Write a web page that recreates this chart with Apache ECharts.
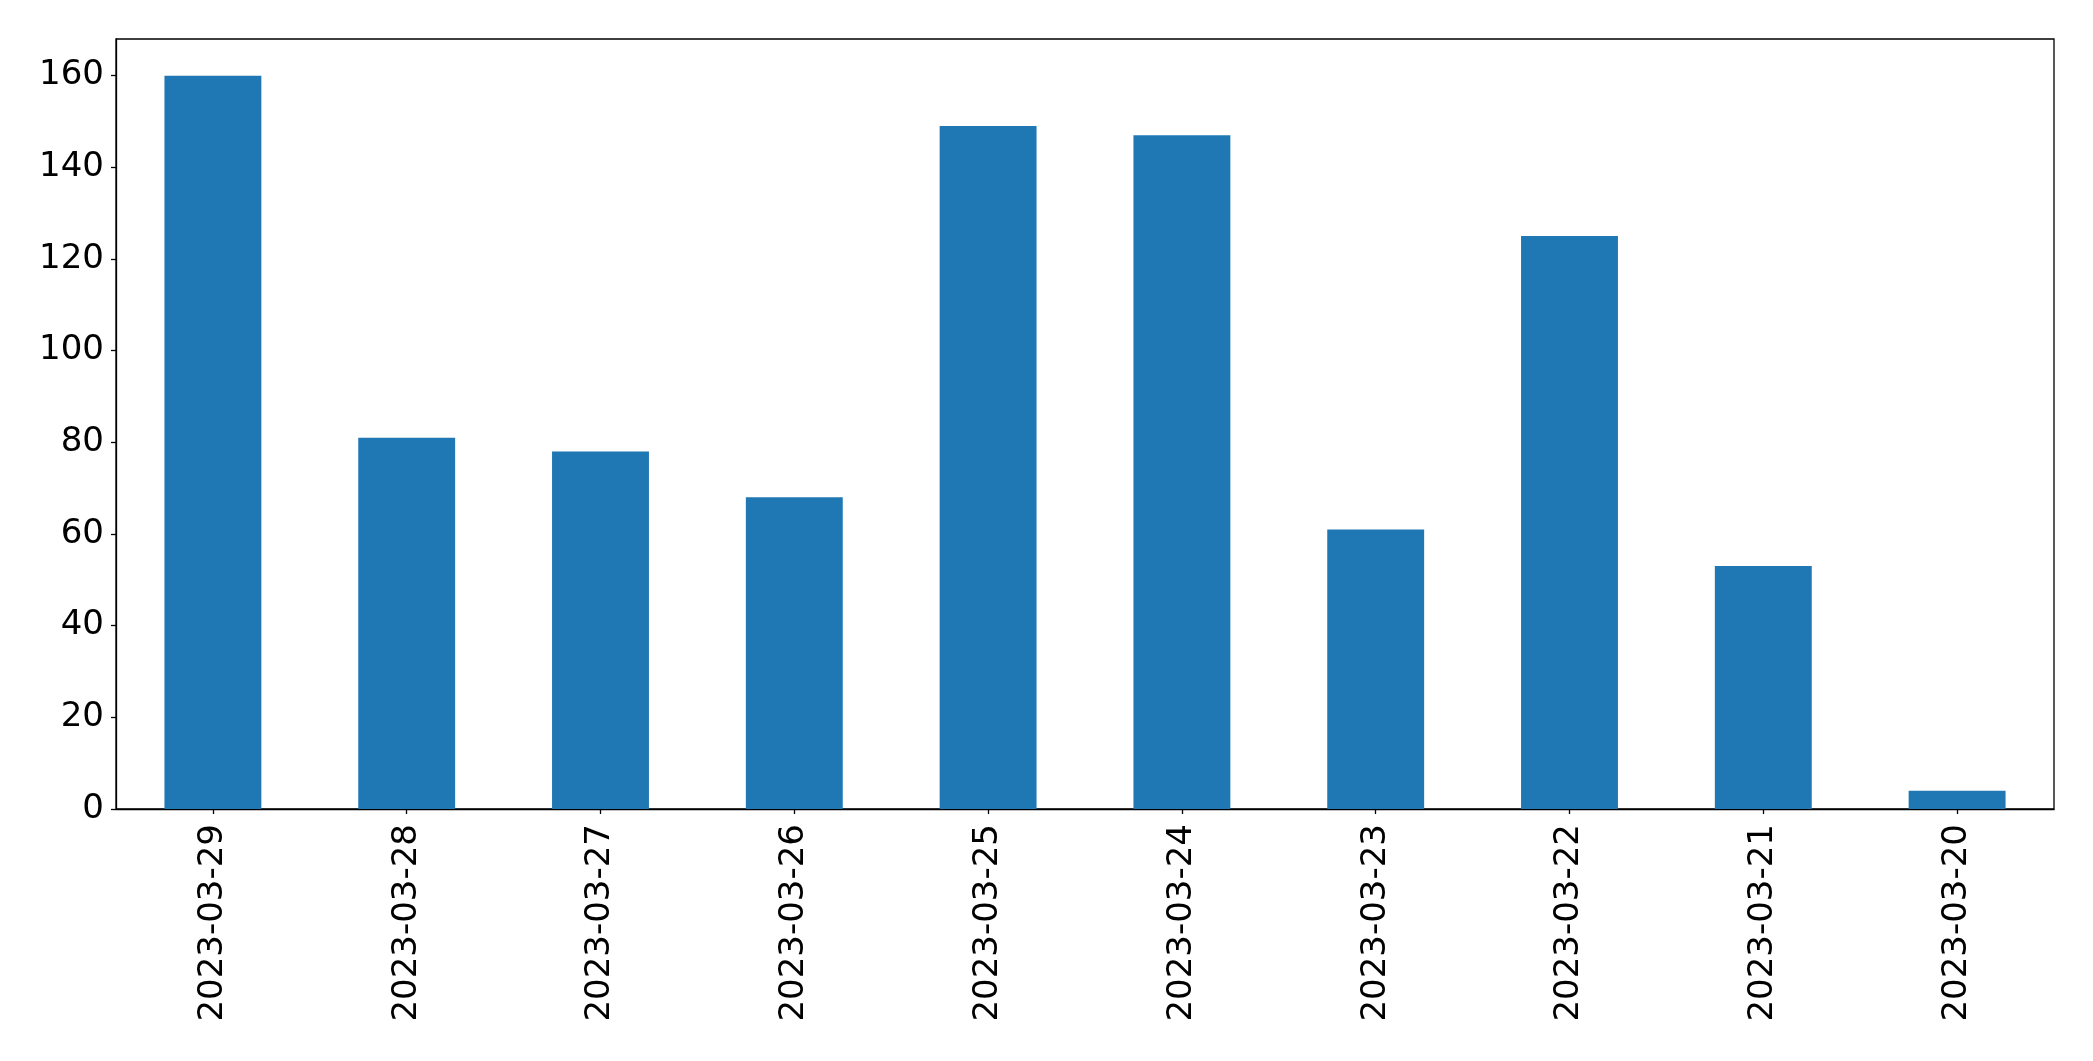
<!DOCTYPE html>
<html>
<head>
<meta charset="utf-8">
<script src="https://cdn.jsdelivr.net/npm/echarts@6/dist/echarts.min.js"></script>
<style>html,body{margin:0;padding:0;background:#fff;}#c{width:2093px;height:1061px;}</style>
</head>
<body>
<div id="c"></div>
<script>
const categories = ['2023-03-29','2023-03-28','2023-03-27','2023-03-26','2023-03-25','2023-03-24','2023-03-23','2023-03-22','2023-03-21','2023-03-20'];
const values = [160, 81, 78, 68, 149, 147, 61, 125, 53, 4];
const yTicks = [0, 20, 40, 60, 80, 100, 120, 140, 160];

const chart = echarts.init(document.getElementById('c'), null, {renderer: 'canvas'});
const font = 'DejaVu Sans';
chart.setOption({
  animation: false,
  backgroundColor: '#ffffff',
  grid: {left: 116, right: 39, top: 39, bottom: 252, show: true, borderColor: '#000', borderWidth: 1.3, backgroundColor: 'transparent'},
  xAxis: {
    type: 'category',
    data: categories,
    boundaryGap: true,
    axisLine: {show: true, lineStyle: {color: '#000', width: 1.3}},
    axisTick: {show: true, alignWithLabel: true, length: 5, lineStyle: {color: '#000', width: 1.3}},
    axisLabel: {rotate: 90, margin: 15, fontFamily: font, fontSize: 34, color: '#000'},
    splitLine: {show: false}
  },
  yAxis: {
    type: 'value',
    min: 0, max: 168, interval: 20,
    axisLine: {show: true, lineStyle: {color: '#000', width: 1.3}},
    axisTick: {show: true, length: 5, lineStyle: {color: '#000', width: 1.3}, customValues: yTicks},
    axisLabel: {fontFamily: font, fontSize: 34, color: '#000', margin: 12, customValues: yTicks},
    splitLine: {show: false}
  },
  series: [{
    type: 'bar',
    data: values,
    barWidth: '50%',
    itemStyle: {color: '#1f77b4'}
  }]
});
</script>
</body>
</html>
